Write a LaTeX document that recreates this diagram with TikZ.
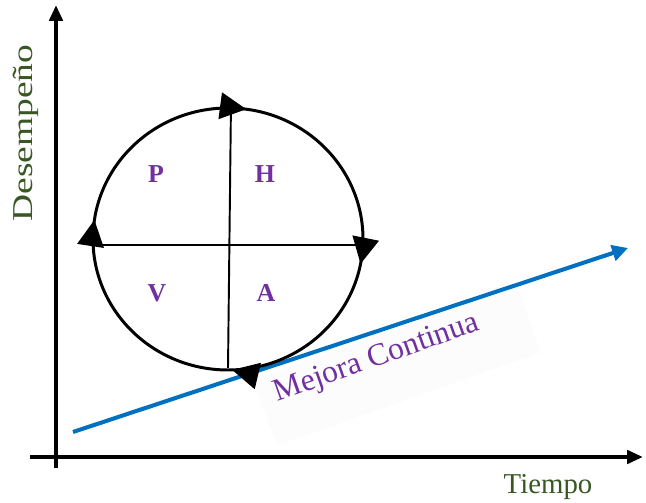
\documentclass[tikz,border=0pt]{standalone}
\usepackage{fontspec}
\setmainfont{Liberation Serif}
\usetikzlibrary{arrows.meta,decorations.markings}
\definecolor{verdeoscuro}{HTML}{385723}
\definecolor{morado}{HTML}{7030A0}
\definecolor{azul}{HTML}{0070C0}

\begin{document}
\begin{tikzpicture}[x=0.02cm, y=-0.02cm]

% Estilos del ciclo PHVA
\tikzset{
    eje/.style={line width=2.8pt, -{Triangle[length=9pt, width=7.5pt]}},
    ciclo/.style={
        line width=1.7pt,
        postaction={decorate},
        decoration={markings,
            mark=at position 0.03 with {\arrow{Triangle[length=15pt, width=15pt]}},
            mark=at position 0.245 with {\pgftransformrotate{-15}\arrow{Triangle[length=15pt, width=15pt]}},
            mark=at position 0.523 with {\arrow{Triangle[length=15pt, width=15pt]}},
            mark=at position 0.772 with {\arrow{Triangle[length=15pt, width=15pt]}}}
    },
    cruz/.style={line width=1.1pt},
    letra/.style={font=\bfseries\fontsize{14.7}{16}\selectfont, text=morado},
    rotulo/.style={font=\fontsize{16.4}{18}\selectfont, text=verdeoscuro}
}

\useasboundingbox (0,0) rectangle (646,503);

% =============================================
% EJES
% =============================================
\coordinate (ybase) at (56,468);
\coordinate (ytope) at (56,5);
\coordinate (xbase) at (30,457);
\coordinate (xtope) at (643,457);
\draw[eje] (ybase) -- (ytope);
\draw[eje] (xbase) -- (xtope);

\node[rotulo, rotate=90, xscale=1.3] (desempeno) at (26,133) {Desempeño};
\node[rotulo] (tiempo) at (548,487) {Tiempo};

% =============================================
% MEJORA CONTINUA
% =============================================
% fondo casi blanco del rótulo
\begin{scope}[shift={(397,366)}, rotate=19.5]
    \fill[black!1] (-140,-35) rectangle (140,35);
\end{scope}

\coordinate (minicio) at (73,432);
\coordinate (mfin) at (628,248);
\draw[azul, line width=2.3pt, -{Triangle[length=9pt, width=9pt]}] (minicio) -- (mfin);

\node[rotate=19.5, text=morado, font=\fontsize{18}{20}\selectfont] (mejora) at (377,359) {Mejora Continua};

% =============================================
% CICLO PHVA
% =============================================
\draw[ciclo] (228,239) ellipse [x radius=135, y radius=131];

\coordinate (cizq) at (93,245);
\coordinate (cder) at (362,245);
\coordinate (csup) at (231,102);
\coordinate (cinf) at (228,368);
\draw[cruz] (cizq) -- (cder);
\draw[cruz] (csup) -- (cinf);

\node[letra] (p) at (156,174) {P};
\node[letra] (h) at (265,174) {H};
\node[letra] (v) at (157,293) {V};
\node[letra] (a) at (266,293) {A};

\end{tikzpicture}
\end{document}
